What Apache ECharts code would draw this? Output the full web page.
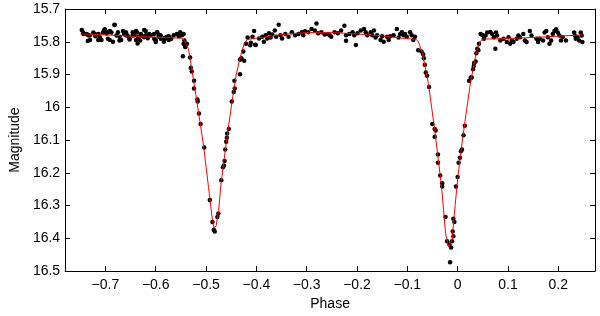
<!DOCTYPE html>
<html><head><meta charset="utf-8">
<script src="https://cdn.jsdelivr.net/npm/echarts@6/dist/echarts.min.js"></script>
<style>html,body{margin:0;padding:0;background:#fff}#c{width:600px;height:316px}</style>
</head><body><div id="c"></div>
<script>
var xTicks = [-0.7,-0.6,-0.5,-0.4,-0.3,-0.2,-0.1,0,0.1,0.2];
var yTicks = [15.7,15.8,15.9,16,16.1,16.2,16.3,16.4,16.5];

var obsPhase = [
-0.747,-0.744,-0.737,-0.735,-0.731,-0.724,-0.720,-0.714,-0.711,-0.705,-0.701,-0.698,-0.695,-0.691,-0.688,-0.682,-0.678,-0.672,-0.665,-0.663,-0.659,-0.656,-0.652,-0.646,-0.643,-0.639,-0.637,-0.635,-0.631,-0.628,-0.623,-0.620,-0.616,-0.613,-0.603,-0.600,-0.597,-0.594,-0.590,-0.584,-0.579,-0.574,-0.569,-0.558,-0.554,-0.551,-0.548,-0.546,-0.543,-0.538,
-0.7436,-0.7339,-0.7306,-0.7208,-0.7143,-0.7078,-0.7025,-0.6947,-0.6914,-0.6849,-0.6816,-0.6751,-0.6718,-0.6686,-0.6621,-0.6588,-0.6523,-0.6458,-0.6425,-0.6392,-0.636,-0.6327,-0.6295,-0.6229,-0.6197,-0.61,-0.6034,-0.6002,-0.5969,-0.5936,-0.5904,-0.5838,-0.5806,-0.5773,-0.574,-0.5642,-0.5544,-0.5513,-0.548,-0.5447,
-0.5447,-0.5414,-0.5317,-0.5303,-0.5284,-0.5238,-0.5238,-0.5173,-0.5166,-0.514,-0.5108,-0.5036,-0.4925,-0.4873,-0.4847,-0.4827,
-0.4775,-0.4755,-0.4697,-0.4664,-0.4645,-0.4632,-0.4618,-0.4599,-0.4586,-0.458,-0.4547,-0.4488,-0.4449,-0.4429,-0.4436,-0.4325,-0.4325,-0.4299,-0.4241,-0.426,-0.4207,-0.4123,-0.411,-0.4045,-0.4025,
-0.4174,-0.4077,-0.4012,-0.3947,-0.3881,-0.3849,-0.3816,-0.3783,-0.3751,-0.3718,-0.3685,-0.3634,-0.3607,-0.3556,-0.3523,-0.349,-0.3425,-0.336,-0.3294,-0.3229,-0.3164,-0.3098,-0.3066,
-0.3033,-0.2968,-0.2903,-0.2838,-0.2805,-0.2773,-0.2707,-0.2642,-0.2577,-0.2544,-0.2511,-0.2446,-0.2381,-0.2316,-0.225,-0.2218,-0.2218,-0.2153,-0.2087,-0.2055,-0.2022,-0.199,-0.1924,-0.1859,-0.1826,-0.1794,-0.1728,-0.1696,-0.1663,-0.163,-0.1598,-0.1532,-0.15,-0.1468,-0.1402,-0.137,-0.1337,-0.1272,-0.1207,-0.1174,-0.1141,-0.1109,-0.1076,-0.1043,-0.1011,-0.0945,-0.0913,-0.0881,-0.0848,
-0.0783,-0.0718,-0.0685,-0.0672,-0.0652,-0.0633,-0.0607,-0.0568,-0.0502,-0.0456,-0.0437,-0.0456,-0.0391,-0.0391,-0.0346,-0.0307,-0.0307,-0.0241,-0.0209,-0.0163,-0.013,-0.015,-0.0111,-0.0085,-0.0098,-0.0065,-0.0085,-0.0033,0.0,0.002,0.0046,0.0065,0.0085,0.0117,0.0143,0.0228,0.0261,0.028,0.0307,0.032,0.0326,0.0359,0.0372,0.0391,0.0411,0.0424,
0.0457,0.0489,0.0522,0.0555,0.0587,0.0652,0.0685,0.0718,0.075,0.0763,0.0783,0.0848,0.0913,0.0978,0.1012,0.1044,0.1076,0.1109,0.1174,0.1207,0.1239,0.1305,0.1337,0.137,0.1435,0.1468,0.1566,0.1598,0.1631,0.1696,0.1728,0.1761,0.1794,0.1826,0.1859,0.1892,0.1924,0.1957,0.199,0.2022,0.2055,0.2088,0.2153,0.2316,0.2329,0.2348,0.2381,0.2414,0.2446,0.2466,0.2479
];
var obsMag = [
15.764,15.772,15.776,15.798,15.781,15.772,15.783,15.776,15.786,15.772,15.762,15.775,15.791,15.767,15.772,15.749,15.781,15.796,15.767,15.776,15.772,15.781,15.793,15.781,15.776,15.767,15.772,15.786,15.796,15.781,15.786,15.767,15.789,15.776,15.791,15.801,15.772,15.781,15.791,15.789,15.786,15.783,15.791,15.776,15.783,15.780,15.776,15.844,15.796,15.806,
15.776,15.780,15.795,15.776,15.795,15.795,15.764,15.771,15.795,15.800,15.748,15.771,15.785,15.795,15.771,15.780,15.790,15.771,15.780,15.795,15.805,15.785,15.776,15.764,15.780,15.780,15.776,15.795,15.771,15.785,15.780,15.800,15.790,15.785,15.795,15.780,15.776,15.771,15.780,15.776,
15.806,15.816,15.848,15.879,15.891,15.919,15.943,15.976,15.982,16.019,16.051,16.123,16.283,16.350,16.374,16.379,
16.335,16.324,16.223,16.183,16.178,16.164,16.129,16.105,16.093,16.080,16.066,15.982,15.953,15.943,15.919,15.899,15.855,15.850,15.858,15.830,15.806,15.811,15.803,15.767,15.809,
15.787,15.785,15.810,15.790,15.785,15.800,15.780,15.790,15.774,15.787,15.778,15.766,15.785,15.748,15.780,15.790,15.776,15.785,15.771,15.780,15.776,15.771,15.780,
15.768,15.771,15.761,15.766,15.744,15.774,15.771,15.778,15.776,15.780,15.785,15.771,15.774,15.766,15.751,15.780,15.797,15.776,15.771,15.780,15.810,15.774,15.766,15.761,15.771,15.780,15.771,15.780,15.766,15.787,15.780,15.795,15.783,15.800,15.785,15.795,15.783,15.780,15.761,15.787,15.776,15.771,15.780,15.776,15.785,15.771,15.780,15.795,15.785,
15.826,15.830,15.838,15.850,15.870,15.894,15.904,15.938,16.051,16.066,16.071,16.090,16.144,16.169,16.208,16.232,16.242,16.335,16.409,16.419,16.428,16.473,16.409,16.394,16.379,16.350,16.340,16.242,16.213,16.169,16.154,16.134,16.129,16.085,16.056,15.919,15.909,15.909,15.884,15.874,15.865,15.860,15.835,15.821,15.826,15.806,
15.776,15.779,15.791,15.781,15.772,15.770,15.776,15.786,15.821,15.772,15.781,15.796,15.791,15.801,15.786,15.806,15.796,15.801,15.791,15.781,15.786,15.776,15.796,15.801,15.767,15.781,15.791,15.801,15.791,15.796,15.772,15.767,15.786,15.806,15.796,15.776,15.767,15.762,15.772,15.781,15.796,15.786,15.796,15.772,15.781,15.791,15.786,15.796,15.772,15.781,15.801
];

var modelPhase = [-0.75,-0.70,-0.65,-0.60,-0.55,-0.545,-0.535,-0.52,-0.505,-0.495,-0.488,-0.484,-0.480,-0.475,-0.47,-0.46,-0.449,-0.44,-0.43,-0.424,-0.418,-0.40,-0.35,-0.30,-0.25,-0.20,-0.15,-0.11,-0.082,-0.078,-0.07,-0.058,-0.045,-0.032,-0.024,-0.018,-0.015,-0.011,-0.005,0.0,0.007,0.014,0.026,0.037,0.045,0.049,0.10,0.15,0.20,0.25];
var modelMag   = [15.776,15.779,15.783,15.786,15.789,15.792,15.821,15.964,16.116,16.245,16.335,16.370,16.362,16.315,16.23,16.11,15.99,15.90,15.835,15.806,15.793,15.789,15.778,15.772,15.772,15.776,15.782,15.789,15.793,15.800,15.835,15.928,16.076,16.242,16.385,16.425,16.430,16.405,16.30,16.22,16.13,16.05,15.92,15.835,15.800,15.792,15.790,15.787,15.783,15.779];

function pairs(a,b){var r=[];for(var i=0;i<a.length;i++)r.push([a[i],b[i]]);return r;}
function fmtX(v){ if(Math.abs(v)<1e-9) return '0'; var s=String(Math.round(Math.abs(v)*10)/10); return v<0?'\u2212'+s:s; }
function fmtY(v){ return String(Math.round(v*10)/10); }

var XMIN=-0.78, XMAX=0.273;
var font='Liberation Sans, Arial, Helvetica, sans-serif';
var lineStyle={color:'#000',width:1};
var chart=echarts.init(document.getElementById('c'),null,{renderer:'canvas'});
chart.setOption({
  animation:false,
  backgroundColor:'#fff',
  grid:{left:57,top:9,right:5,bottom:35,containLabel:false},
  xAxis:[{
    type:'value',min:XMIN,max:XMAX,position:'bottom',
    name:'Phase',nameLocation:'middle',nameGap:20,
    nameTextStyle:{color:'#000',fontSize:14,fontFamily:font},
    axisLine:{show:true,onZero:false,lineStyle:lineStyle},
    axisTick:{show:true,inside:true,length:5,lineStyle:lineStyle,customValues:xTicks},
    axisLabel:{color:'#000',fontSize:14,fontFamily:font,margin:7,customValues:xTicks,formatter:fmtX},
    splitLine:{show:false}
  },{
    type:'value',min:XMIN,max:XMAX,position:'top',
    axisLine:{show:true,onZero:false,lineStyle:lineStyle},
    axisTick:{show:true,inside:true,length:5,lineStyle:lineStyle,customValues:xTicks},
    axisLabel:{show:false},splitLine:{show:false}
  }],
  yAxis:[{
    type:'value',min:15.7,max:16.5,inverse:true,position:'left',
    name:'Magnitude',nameLocation:'middle',nameGap:39,nameRotate:90,
    nameTextStyle:{color:'#000',fontSize:14,fontFamily:font},
    axisLine:{show:true,onZero:false,lineStyle:lineStyle},
    axisTick:{show:true,inside:true,length:5,lineStyle:lineStyle,customValues:yTicks},
    axisLabel:{color:'#000',fontSize:14,fontFamily:font,margin:5,customValues:yTicks,formatter:fmtY},
    splitLine:{show:false}
  },{
    type:'value',min:15.7,max:16.5,inverse:true,position:'right',
    axisLine:{show:true,onZero:false,lineStyle:lineStyle},
    axisTick:{show:true,inside:true,length:5,lineStyle:lineStyle,customValues:yTicks},
    axisLabel:{show:false},splitLine:{show:false}
  }],
  series:[{
    type:'scatter',xAxisIndex:0,yAxisIndex:0,
    data:pairs(obsPhase,obsMag),symbol:'circle',symbolSize:4.5,
    itemStyle:{color:'#000',opacity:1},silent:true,z:2
  },{
    type:'line',xAxisIndex:0,yAxisIndex:0,
    data:pairs(modelPhase,modelMag),showSymbol:false,symbol:'none',
    lineStyle:{color:'#ff0000',width:1},silent:true,z:3
  }]
});
</script></body></html>
